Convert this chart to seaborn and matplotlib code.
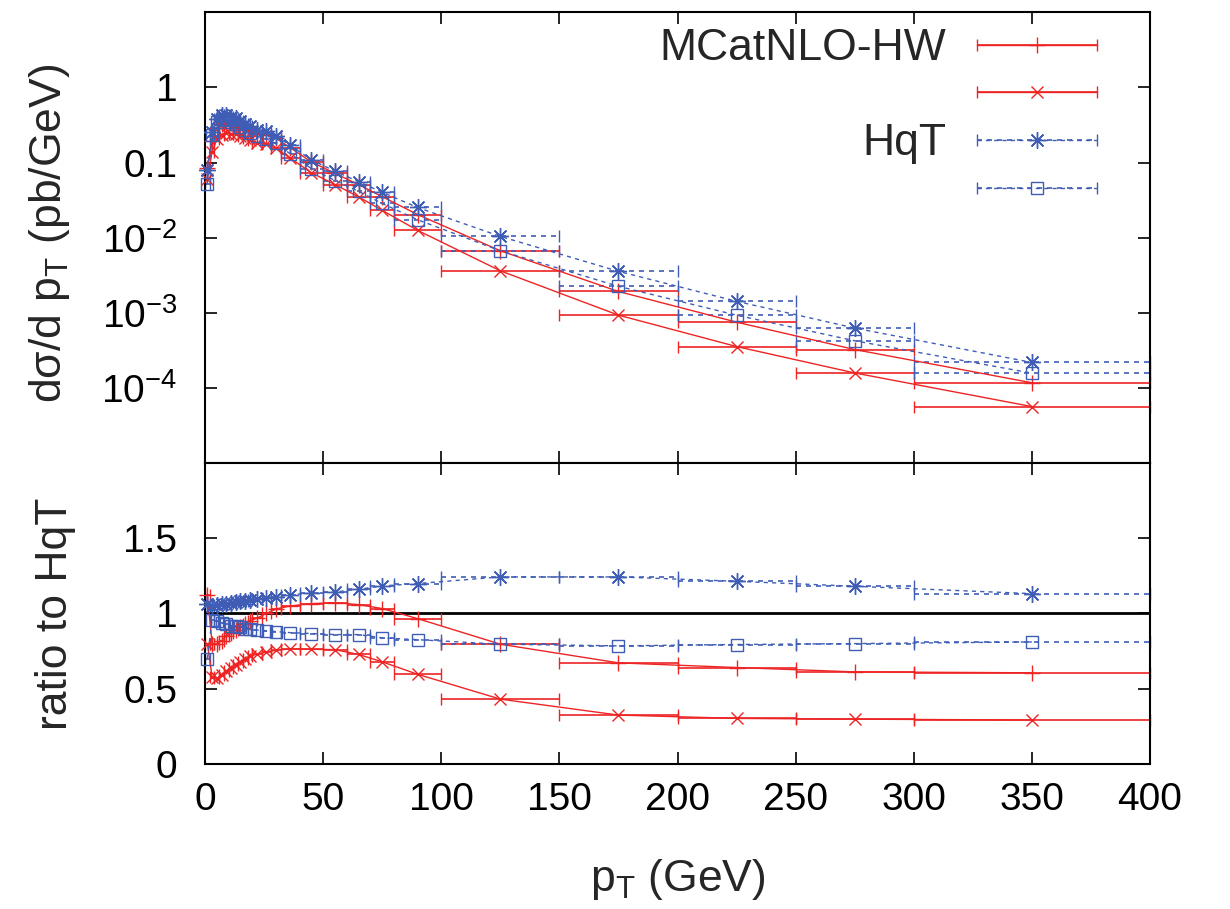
import numpy as np
import pandas as pd
import matplotlib
matplotlib.use("Agg")
import matplotlib.pyplot as plt
import seaborn as sns
from matplotlib.container import ErrorbarContainer
from matplotlib.legend_handler import HandlerErrorbar
from matplotlib.ticker import NullLocator, FixedLocator, FixedFormatter

# ---------------- data ----------------
bin_lo = [0, 2, 4, 6, 8, 10, 12, 14, 16, 18, 20, 24, 28, 32, 40, 50, 60, 70, 80, 100, 150, 200, 250, 300]
bin_hi = [2, 4, 6, 8, 10, 12, 14, 16, 18, 20, 24, 28, 32, 40, 50, 60, 70, 80, 100, 150, 200, 250, 300, 400]
pt     = [1, 3, 5, 7, 9, 11, 13, 15, 17, 19, 22, 26, 30, 36, 45, 55, 65, 75, 90, 125, 175, 225, 275, 350]

# upper panel: d sigma / d pT (pb/GeV)
mcnlo_plus = [0.084, 0.192, 0.288, 0.328, 0.340, 0.331, 0.320, 0.300, 0.279, 0.266, 0.243, 0.235,
              0.211, 0.158, 0.102, 0.0718, 0.0508, 0.0351, 0.0203, 0.00669, 0.00192, 0.00075,
              0.000324, 0.000117]
mcnlo_cross = [0.060, 0.139, 0.205, 0.236, 0.248, 0.243, 0.238, 0.224, 0.210, 0.200, 0.183, 0.175,
               0.155, 0.115, 0.0732, 0.0509, 0.0349, 0.0231, 0.0125, 0.00362, 0.00093, 0.000355,
               0.000158, 0.0000564]
hqt_star = [0.0795, 0.252, 0.380, 0.424, 0.426, 0.407, 0.387, 0.356, 0.326, 0.305, 0.274, 0.259,
            0.228, 0.169, 0.109, 0.0766, 0.0557, 0.0402, 0.0252, 0.0104, 0.00356, 0.00142,
            0.000626, 0.000218]
hqt_square = [0.0525, 0.230, 0.342, 0.376, 0.372, 0.350, 0.329, 0.300, 0.270, 0.251, 0.223, 0.208,
              0.180, 0.131, 0.0832, 0.0576, 0.0413, 0.0285, 0.0173, 0.00669, 0.00225, 0.000929,
              0.000424, 0.000157]

# lower panel: ratio to HqT
ratio_plus = [1.12, 0.80, 0.80, 0.82, 0.85, 0.87, 0.89, 0.91, 0.93, 0.95, 0.97, 1.00, 1.03, 1.05,
              1.066, 1.072, 1.059, 1.033, 0.966, 0.796, 0.672, 0.641, 0.612, 0.606]
ratio_cross = [0.80, 0.58, 0.57, 0.59, 0.62, 0.64, 0.66, 0.68, 0.70, 0.715, 0.73, 0.745, 0.755,
               0.765, 0.762, 0.760, 0.728, 0.679, 0.596, 0.431, 0.325, 0.303, 0.298, 0.292]
ratio_star = [1.06, 1.05, 1.055, 1.06, 1.065, 1.07, 1.075, 1.08, 1.085, 1.09, 1.095, 1.10, 1.11,
              1.125, 1.135, 1.143, 1.161, 1.183, 1.199, 1.243, 1.243, 1.214, 1.181, 1.132]
ratio_square = [0.70, 0.96, 0.95, 0.94, 0.93, 0.92, 0.915, 0.91, 0.90, 0.895, 0.89, 0.885, 0.88,
                0.873, 0.867, 0.860, 0.860, 0.838, 0.826, 0.796, 0.785, 0.794, 0.800, 0.811]

labels = ["MCatNLO-HW", "", "HqT", ""]
x_ticks = [0, 50, 100, 150, 200, 250, 300, 350, 400]
y_ticks_top = [1e-5, 1e-4, 1e-3, 1e-2, 1e-1, 1, 10]
y_ticklabels_top = ["", r"$10^{-4}$", r"$10^{-3}$", r"$10^{-2}$", "0.1", "1", ""]
y_ticks_bot = [0, 0.5, 1, 1.5, 2]
y_ticklabels_bot = ["0", "0.5", "1", "1.5", ""]

# ---------------- style ----------------
sns.set_theme(style="ticks")
plt.rcParams["font.family"] = ["Liberation Sans", "DejaVu Sans"]
plt.rcParams["mathtext.default"] = "regular"

RED = "#ee2424"
BLUE = "#3f5db5"
DASH = (0, (3, 3))

series = [
    dict(up=mcnlo_plus, rat=ratio_plus, color=RED, marker="+", ls="-", ms=11, mfc=RED),
    dict(up=mcnlo_cross, rat=ratio_cross, color=RED, marker="x", ls="-", ms=9, mfc=RED),
    dict(up=hqt_star, rat=ratio_star, color=BLUE, marker=(8, 2, 0), ls=DASH, ms=12, mfc=BLUE),
    dict(up=hqt_square, rat=ratio_square, color=BLUE, marker="s", ls=DASH, ms=8.5, mfc="none"),
]

fig = plt.figure(figsize=(12.3, 9.09), dpi=100)
ax1 = fig.add_axes([0.16667, 0.49065, 0.76829, 0.49582])
ax2 = fig.add_axes([0.16667, 0.15952, 0.76829, 0.33113])

pt_arr = np.array(pt, dtype=float)
xerr = [pt_arr - np.array(bin_lo), np.array(bin_hi) - pt_arr]

handles = []
for s in series:
    for ax, key in ((ax1, "up"), (ax2, "rat")):
        df = pd.DataFrame({"pt": pt, "val": s[key]})
        sns.lineplot(data=df, x="pt", y="val", ax=ax, color=s["color"], linestyle=s["ls"],
                     linewidth=1.0, marker=s["marker"], markersize=s["ms"],
                     markeredgecolor=s["color"], markerfacecolor=s["mfc"],
                     markeredgewidth=1.0, estimator=None, sort=True, legend=False,
                     clip_on=False, zorder=3)
        line = ax.lines[-1]
        eb = ax.errorbar(pt, s[key], xerr=xerr, fmt="none", ecolor=s["color"],
                         elinewidth=1.2, capsize=4.3, capthick=1.0, clip_on=False, zorder=2)
        for c in eb[2]:
            c.set_clip_on(False)
            if s["ls"] != "-":
                c.set_linestyle(DASH)
        for c in eb[1]:
            c.set_clip_on(False)
        if ax is ax1:
            handles.append((eb, line))

# ratio reference line at 1
ax2.axhline(1.0, color="black", linewidth=2.0, zorder=1)

# ---------------- axes ----------------
for ax in (ax1, ax2):
    ax.set_xlim(0, 400)
    ax.xaxis.set_major_locator(FixedLocator(x_ticks))
    ax.tick_params(direction="in", length=8.6, width=1.2, top=True, right=True,
                   labelsize=28, colors="black")
    ax.tick_params(axis="y", pad=20)
    ax.tick_params(axis="x", pad=13)
    for sp in ax.spines.values():
        sp.set_linewidth(1.5)
        sp.set_color("black")
    ax.set_facecolor("white")

ax1.set_yscale("log")
ax1.set_ylim(1e-5, 10)
ax1.yaxis.set_major_locator(FixedLocator(y_ticks_top))
ax1.yaxis.set_major_formatter(FixedFormatter(y_ticklabels_top))
ax1.yaxis.set_minor_locator(NullLocator())
ax1.tick_params(labelbottom=False)
ax1.set_xlabel("")
ax1.set_ylabel("dσ/d $p_T$ (pb/GeV)", fontsize=32)
ax1.yaxis.set_label_coords(-0.141, 0.51)

ax2.set_ylim(0, 2)
ax2.yaxis.set_major_locator(FixedLocator(y_ticks_bot))
ax2.yaxis.set_major_formatter(FixedFormatter(y_ticklabels_bot))
ax2.set_ylabel("ratio to HqT", fontsize=32)
ax2.yaxis.set_label_coords(-0.137, 0.5)
ax2.set_xlabel("$p_T$ (GeV)", fontsize=32)
ax2.xaxis.set_label_coords(0.5, -0.31)

leg = ax1.legend(handles, labels, loc="upper right", bbox_to_anchor=(0.9436, 0.965),
                 frameon=False, markerfirst=False, fontsize=32, numpoints=1,
                 handlelength=2.7, handletextpad=0.68, labelspacing=0.15,
                 borderpad=0, borderaxespad=0,
                 handler_map={ErrorbarContainer: HandlerErrorbar(xerr_size=1.35)})

fig.savefig("out.png", dpi=100, facecolor="white")
